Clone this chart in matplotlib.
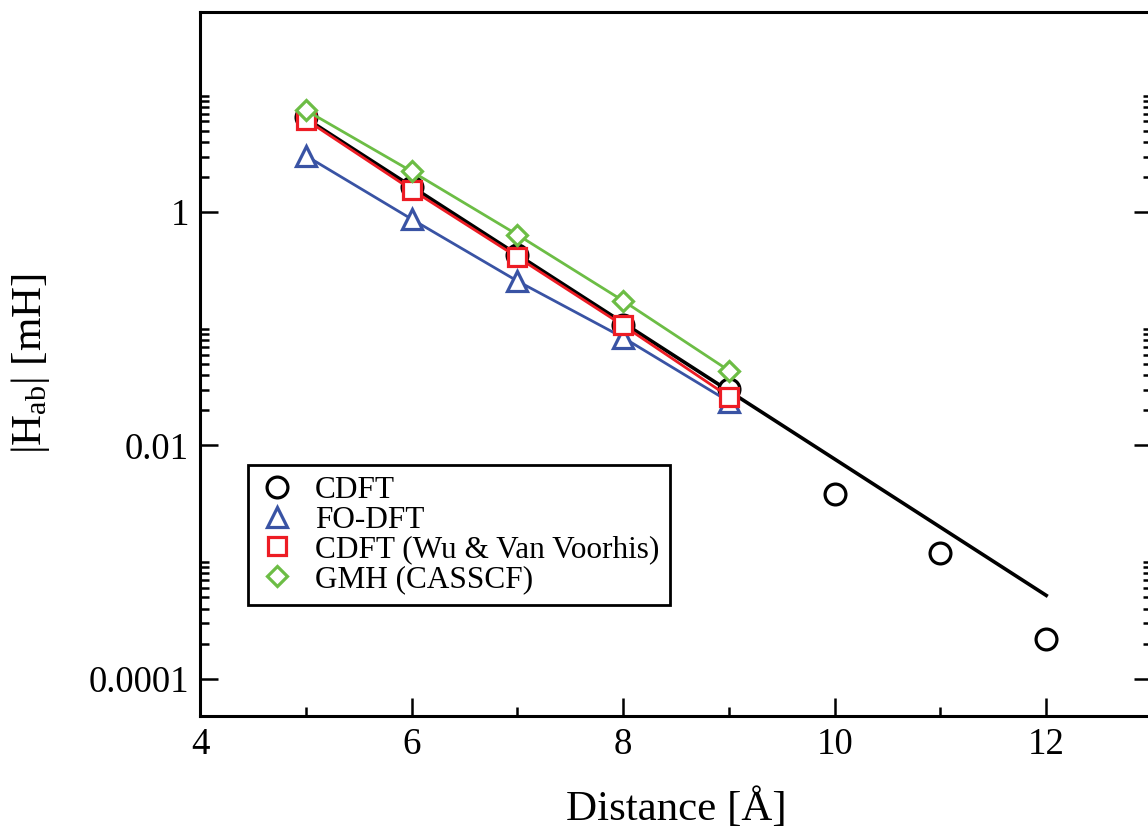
import numpy as np
import matplotlib
matplotlib.use("Agg")
import matplotlib.pyplot as plt
from matplotlib.lines import Line2D
from matplotlib.ticker import FixedLocator, FixedFormatter

plt.rcParams['font.family'] = ['Liberation Serif', 'DejaVu Serif']
plt.rcParams['mathtext.fontset'] = 'custom'
plt.rcParams['mathtext.rm'] = 'Liberation Serif'
plt.rcParams['mathtext.it'] = 'Liberation Serif:italic'

# Distancias [Å] y acoplamientos |Hab| [mH]
dist_cdft = [5, 6, 7, 8, 9, 10, 11, 12]
hab_cdft = [6.5, 1.65, 0.432, 0.107, 0.0306, 0.00383, 0.00120, 0.000221]

dist_cortas = [5, 6, 7, 8, 9]
hab_fodft = [3.05, 0.873, 0.257, 0.0842, 0.0238]
hab_wu = [6.22, 1.56, 0.412, 0.107, 0.0262]
hab_gmh = [7.48, 2.24, 0.641, 0.174, 0.0439]

etiquetas = ["CDFT", "FO-DFT", "CDFT (Wu & Van Voorhis)", "GMH (CASSCF)"]

azul = "#3953a4"
rojo = "#ed1c24"
verde = "#6cbd45"

fig = plt.figure(figsize=(11.48, 8.30), dpi=100)
ax = fig.add_axes([200 / 1148, 1 - 716 / 830, 952 / 1148, 704 / 830])

# Ajuste exponencial de CDFT (5-9 Å) extrapolado hasta 12 Å
pend, orden = np.polyfit(dist_cdft[:5], np.log10(hab_cdft[:5]), 1)
x_fit = np.array([dist_cdft[0], dist_cdft[-1]])
ax.plot(x_fit, 10 ** (orden + pend * x_fit), color='black', lw=2.6, zorder=2)
ax.plot(dist_cdft, hab_cdft, 'o', ms=15, mfc='white', mec='black', mew=2.3, zorder=3)

ax.plot(dist_cortas, hab_fodft, '-^', color=azul, lw=2.0, ms=15, mfc='white', mec=azul, mew=2.3, zorder=4)
ax.plot(dist_cortas, hab_wu, '-s', color=rojo, lw=2.0, ms=13, mfc='white', mec=rojo, mew=2.3, zorder=5)
ax.plot(dist_cortas, hab_gmh, '-D', color=verde, lw=2.0, ms=10, mfc='white', mec=verde, mew=2.3, zorder=6)

ax.set_yscale('log')
ax.set_xlim(4, 13)
ax.set_ylim(4.8e-5, 52)

ax.xaxis.set_major_locator(FixedLocator([4, 6, 8, 10, 12]))
ax.xaxis.set_minor_locator(FixedLocator([5, 7, 9, 11]))
ax.yaxis.set_major_locator(FixedLocator([1e-4, 1e-2, 1]))
ax.yaxis.set_major_formatter(FixedFormatter(["0.0001", "0.01", "1"]))
menores = [k * 10.0 ** e for e in (-4, -2, 0) for k in range(2, 11)]
ax.yaxis.set_minor_locator(FixedLocator(menores))
ax.yaxis.set_minor_formatter(FixedFormatter([""] * len(menores)))

ax.tick_params(which='both', direction='in', left=True, right=True, top=False, bottom=True,
               labelsize=26.5, width=1.8)
ax.tick_params(which='major', length=13)
ax.tick_params(which='minor', length=6.5)
ax.tick_params(axis='y', pad=8)
ax.tick_params(axis='x', pad=8)
for s in ax.spines.values():
    s.set_linewidth(2.2)

ax.set_xlabel("Distance [Å]", fontsize=31)
ax.set_ylabel("|H$_{\\mathrm{ab}}$| [mH]", fontsize=31)
ax.xaxis.set_label_coords(0.5, -0.103)
ax.yaxis.set_label_coords(-0.155, 0.5)

# Leyenda solo con símbolos
simbolos = [
    Line2D([], [], ls='none', marker='o', ms=15, mfc='white', mec='black', mew=2.3),
    Line2D([], [], ls='none', marker='^', ms=15, mfc='white', mec=azul, mew=2.3),
    Line2D([], [], ls='none', marker='s', ms=13, mfc='white', mec=rojo, mew=2.3),
    Line2D([], [], ls='none', marker='D', ms=10, mfc='white', mec=verde, mew=2.3),
]
leg = ax.legend(simbolos, etiquetas, loc='lower left', bbox_to_anchor=(0.05, 0.158),
                borderaxespad=0, fontsize=22.5, frameon=True, fancybox=False,
                edgecolor='black', framealpha=1, handlelength=1.2, handletextpad=0.6,
                labelspacing=0.02, borderpad=0.35)
leg.get_frame().set_linewidth(2.0)

fig.savefig("out.png", dpi=100)
